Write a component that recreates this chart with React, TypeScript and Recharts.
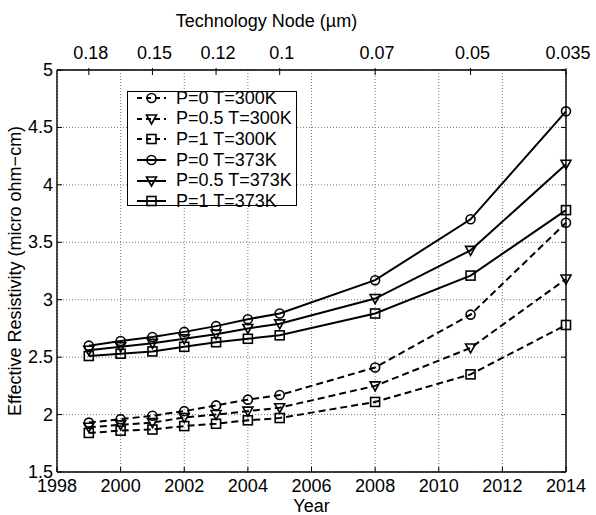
import { CartesianGrid, Legend, Line, LineChart, XAxis, YAxis } from 'recharts'

const FONT = '"Liberation Sans", Arial, Helvetica, sans-serif'

// data
const years = [1999, 2000, 2001, 2002, 2003, 2004, 2005, 2008, 2011, 2014]
const p0T300 = [1.93, 1.96, 1.99, 2.03, 2.08, 2.13, 2.17, 2.41, 2.87, 3.67]
const p05T300 = [1.89, 1.91, 1.93, 1.975, 2.0, 2.03, 2.06, 2.25, 2.58, 3.18]
const p1T300 = [1.84, 1.86, 1.87, 1.9, 1.92, 1.95, 1.97, 2.11, 2.35, 2.78]
const p0T373 = [2.6, 2.64, 2.675, 2.72, 2.77, 2.83, 2.88, 3.17, 3.7, 4.64]
const p05T373 = [2.56, 2.59, 2.62, 2.66, 2.7, 2.75, 2.79, 3.01, 3.43, 4.18]
const p1T373 = [2.51, 2.53, 2.55, 2.59, 2.63, 2.66, 2.69, 2.88, 3.21, 3.78]

const yearTicks = [1998, 2000, 2002, 2004, 2006, 2008, 2010, 2012, 2014]
const yTicks = [1.5, 2, 2.5, 3, 3.5, 4, 4.5, 5]
const nodeYears = [1999, 2001, 2003, 2005, 2008, 2011, 2014]
const nodeLabels = ['0.18', '0.15', '0.12', '0.1', '0.07', '0.05', '0.035']

type Shape = 'circle' | 'triangle' | 'square'

const series: { key: string; name: string; values: number[]; shape: Shape; dashed: boolean }[] = [
  { key: 'p0_300', name: 'P=0 T=300K', values: p0T300, shape: 'circle', dashed: true },
  { key: 'p05_300', name: 'P=0.5 T=300K', values: p05T300, shape: 'triangle', dashed: true },
  { key: 'p1_300', name: 'P=1 T=300K', values: p1T300, shape: 'square', dashed: true },
  { key: 'p0_373', name: 'P=0 T=373K', values: p0T373, shape: 'circle', dashed: false },
  { key: 'p05_373', name: 'P=0.5 T=373K', values: p05T373, shape: 'triangle', dashed: false },
  { key: 'p1_373', name: 'P=1 T=373K', values: p1T373, shape: 'square', dashed: false },
]

const chartData = years.map((year, i) => {
  const row: Record<string, number> = { year }
  series.forEach((s) => {
    row[s.key] = s.values[i]
  })
  return row
})

function Marker({ cx, cy, shape }: { cx: number; cy: number; shape: Shape }) {
  const common = { fill: 'none', stroke: '#000', strokeWidth: 1.6 }
  if (shape === 'circle') return <circle cx={cx} cy={cy} r={4.5} {...common} />
  if (shape === 'triangle')
    return <polygon points={`${cx - 5},${cy - 4} ${cx + 5},${cy - 4} ${cx},${cy + 5}`} {...common} />
  return <rect x={cx - 4.5} y={cy - 4.5} width={9} height={9} {...common} />
}

const textStyle = { fontSize: 18, fontFamily: FONT, fill: '#000' }
const axisLine = { stroke: '#000', strokeWidth: 1.4 }

function BottomTick({ x, y, payload }: any) {
  return (
    <g>
      <line x1={x} y1={y} x2={x} y2={y - 5} stroke="#000" />
      <text x={x} y={y + 20} textAnchor="middle" {...textStyle}>
        {payload.value}
      </text>
    </g>
  )
}

function TopTick({ x, y, payload }: any) {
  const label = nodeLabels[nodeYears.indexOf(payload.value)]
  return (
    <g>
      <line x1={x} y1={y - 2} x2={x} y2={y + 5} stroke="#000" />
      <text x={x + 2} y={y - 11} textAnchor="middle" {...textStyle}>
        {label}
      </text>
    </g>
  )
}

function LeftTick({ x, y, payload }: any) {
  return (
    <g>
      <line x1={x} y1={y} x2={x + 5} y2={y} stroke="#000" />
      <text x={x - 4} y={y + 6} textAnchor="end" {...textStyle}>
        {payload.value}
      </text>
    </g>
  )
}

function RightTick({ x, y }: any) {
  return <line x1={x} y1={y} x2={x - 5} y2={y} stroke="#000" />
}

function LegendBox() {
  return (
    <div
      style={{
        width: 170,
        height: 115,
        boxSizing: 'border-box',
        border: '1px solid #000',
        background: '#fff',
        fontFamily: FONT,
        fontSize: 18,
        color: '#000',
      }}
    >
      <div style={{ marginTop: -4 }}>
        {series.map((s) => (
          <div key={s.key} style={{ display: 'flex', alignItems: 'center', height: 20.6, whiteSpace: 'nowrap' }}>
            <svg width={48} height={20} style={{ flex: 'none' }}>
              <line
                x1={9}
                y1={10}
                x2={38}
                y2={10}
                stroke="#000"
                strokeWidth={2}
                strokeDasharray={s.dashed ? '5 4' : undefined}
              />
              <Marker cx={23.5} cy={10} shape={s.shape} />
            </svg>
            <span>{s.name}</span>
          </div>
        ))}
      </div>
    </div>
  )
}

export default function App() {
  return (
    <div style={{ position: 'absolute', left: 0, top: 0 }}>
      <LineChart width={596} height={515} data={chartData} margin={{ top: 0, right: 29, bottom: 0, left: 0 }}>
        <CartesianGrid stroke="#777" strokeDasharray="1 2" />
        <XAxis
          dataKey="year"
          type="number"
          domain={[1998, 2014]}
          ticks={yearTicks}
          interval={0}
          height={43}
          axisLine={axisLine}
          tickSize={0}
          tickMargin={0}
          tick={<BottomTick />}
          label={{ value: 'Year', position: 'insideBottom', offset: 3, style: textStyle }}
        />
        <XAxis
          xAxisId="top"
          orientation="top"
          dataKey="year"
          type="number"
          domain={[1998, 2014]}
          allowDataOverflow
          ticks={nodeYears}
          interval={0}
          height={70}
          axisLine={axisLine}
          tickSize={0}
          tickMargin={0}
          tick={<TopTick />}
          label={{ value: 'Technology Node (\u00b5m)', position: 'insideTop', offset: 14, dx: -45, style: textStyle }}
        />
        <YAxis
          type="number"
          domain={[1.5, 5]}
          ticks={yTicks}
          interval={0}
          width={57}
          axisLine={axisLine}
          tickSize={0}
          tickMargin={0}
          tick={<LeftTick />}
          label={{
            value: 'Effective Resistivity (micro ohm\u2212cm)',
            angle: -90,
            position: 'insideLeft',
            offset: 15,
            style: { ...textStyle, textAnchor: 'middle' },
          }}
        />
        <YAxis
          yAxisId="right"
          orientation="right"
          type="number"
          domain={[1.5, 5]}
          allowDataOverflow
          ticks={yTicks}
          interval={0}
          width={1}
          axisLine={axisLine}
          tickSize={0}
          tickMargin={0}
          tick={<RightTick />}
        />
        <Legend
          layout="vertical"
          align="center"
          verticalAlign="middle"
          wrapperStyle={{ left: 127, top: 91, width: 170, height: 115 }}
          content={() => <LegendBox />}
        />
        {series.map((s) => (
          <Line
            key={s.key}
            dataKey={s.key}
            name={s.name}
            type="linear"
            stroke="#000"
            strokeWidth={2}
            strokeDasharray={s.dashed ? '7 4' : undefined}
            dot={(p: any) => <Marker key={`${s.key}-${p.index}`} cx={p.cx} cy={p.cy} shape={s.shape} />}
            activeDot={false}
            isAnimationActive={false}
          />
        ))}
      </LineChart>
    </div>
  )
}
